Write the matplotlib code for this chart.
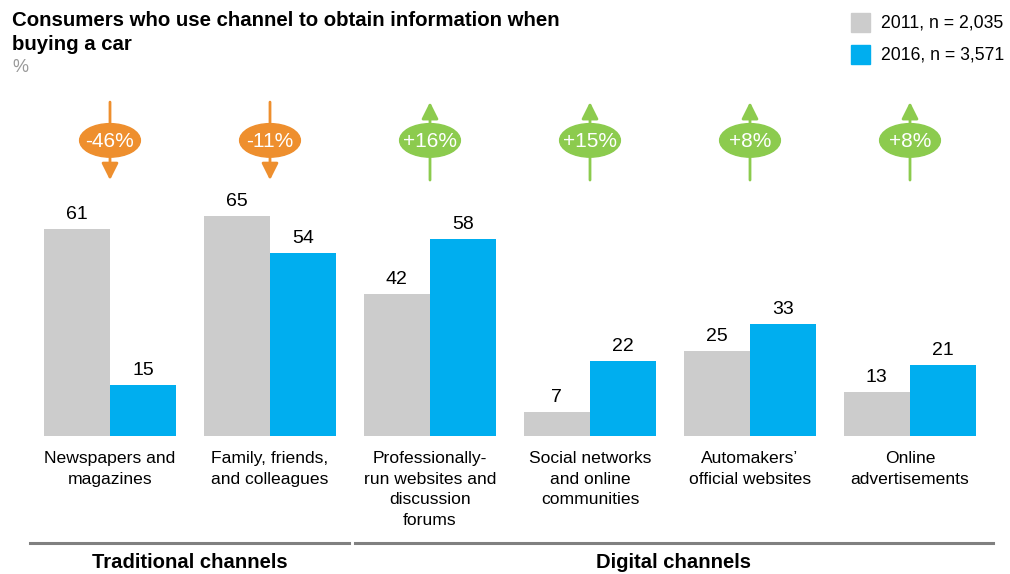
import matplotlib.pyplot as plt
import matplotlib.transforms as mtransforms
from matplotlib.patches import Ellipse
import numpy as np

plt.rcParams['font.family'] = ['Liberation Sans', 'DejaVu Sans']

# data
categories = ["Newspapers and\nmagazines", "Family, friends,\nand colleagues",
              "Professionally-\nrun websites and\ndiscussion\nforums",
              "Social networks\nand online\ncommunities",
              "Automakers\u2019\nofficial websites", "Online\nadvertisements"]
vals_2011 = [61, 65, 42, 7, 25, 13]
vals_2016 = [15, 54, 58, 22, 33, 21]
changes = ["-46%", "-11%", "+16%", "+15%", "+8%", "+8%"]
series_labels = ["2011, n = 2,035", "2016, n = 3,571"]
groups = ["Traditional channels", "Digital channels"]

GRAY = "#CCCCCC"
BLUE = "#00AEEF"
ORANGE = "#EE8F2E"
GREEN = "#8CCB4E"

W, H = 1010, 574
fig = plt.figure(figsize=(W / 100, H / 100), dpi=100)
# axes: x from px 30 to 990 (-0.5..5.5), baseline at px 436, 3.39 px per unit
ytop_units = (436 - 0) / 3.39
ax = fig.add_axes([30 / W, (H - 436) / H, 960 / W, 436 / H])
ax.set_xlim(-0.5, 5.5)
ax.set_ylim(0, ytop_units)
ax.axis('off')

x = np.arange(len(categories))
bw = 0.415
ax.bar(x - bw / 2, vals_2011, bw, color=GRAY)
ax.bar(x + bw / 2, vals_2016, bw, color=BLUE)

for xi, v1, v2 in zip(x, vals_2011, vals_2016):
    ax.text(xi - bw / 2, v1 + 1.8, str(v1), ha='center', va='bottom', fontsize=14)
    ax.text(xi + bw / 2, v2 + 1.8, str(v2), ha='center', va='bottom', fontsize=14)

# change arrows with ellipse badges
for xi, ch in zip(x, changes):
    up = ch.startswith('+')
    col = GREEN if up else ORANGE
    top, bot = 98.5, 75.5
    style = '-|>,head_length=1.0,head_width=0.5'
    if up:
        ax.annotate('', xy=(xi, top), xytext=(xi, bot),
                    arrowprops=dict(arrowstyle=style, color=col, lw=2, shrinkA=0, shrinkB=0))
    else:
        ax.annotate('', xy=(xi, bot), xytext=(xi, top),
                    arrowprops=dict(arrowstyle=style, color=col, lw=2, shrinkA=0, shrinkB=0))
    ax.add_patch(Ellipse((xi, 87.2), 0.38, 9.9, color=col, zorder=3))
    ax.text(xi, 87.0, ch, ha='center', va='center', color='white', fontsize=15, zorder=4)

# category labels
for xi, cat in zip(x, categories):
    ax.text(xi, -4.4, cat, ha='center', va='top', fontsize=12.6, linespacing=1.47)

# group lines and labels
trans = mtransforms.blended_transform_factory(ax.transData, fig.transFigure)
line_y = (H - 543) / H
ax.plot([-0.5, 1.494], [line_y, line_y], color='#808080', lw=2.2, transform=trans, clip_on=False)
ax.plot([1.53, 5.52], [line_y, line_y], color='#808080', lw=2.2, transform=trans, clip_on=False)
ax.text(0.5, (H - 562) / H, groups[0], ha='center', va='center', fontsize=14.6,
        fontweight='bold', transform=trans)
ax.text(3.52, (H - 562) / H, groups[1], ha='center', va='center', fontsize=14.6,
        fontweight='bold', transform=trans)

# title
fig.text(12 / W, 1 - 32.5 / H, "Consumers who use channel to obtain information when\nbuying a car",
         ha='left', va='center', fontsize=14.7, fontweight='bold', linespacing=1.38)
fig.text(12 / W, 1 - 68 / H, "%", ha='left', va='center', fontsize=13, color='#999999')

# legend
for i, (lab, col) in enumerate(zip(series_labels, [GRAY, BLUE])):
    yc = 22.5 + 32 * i
    fig.patches.append(plt.Rectangle((851 / W, 1 - (yc + 9.5) / H), 19 / W, 19 / H,
                                     color=col, transform=fig.transFigure, figure=fig))
    fig.text(881 / W, 1 - yc / H, lab, ha='left', va='center', fontsize=12.7)

fig.savefig('out.png', dpi=100)
